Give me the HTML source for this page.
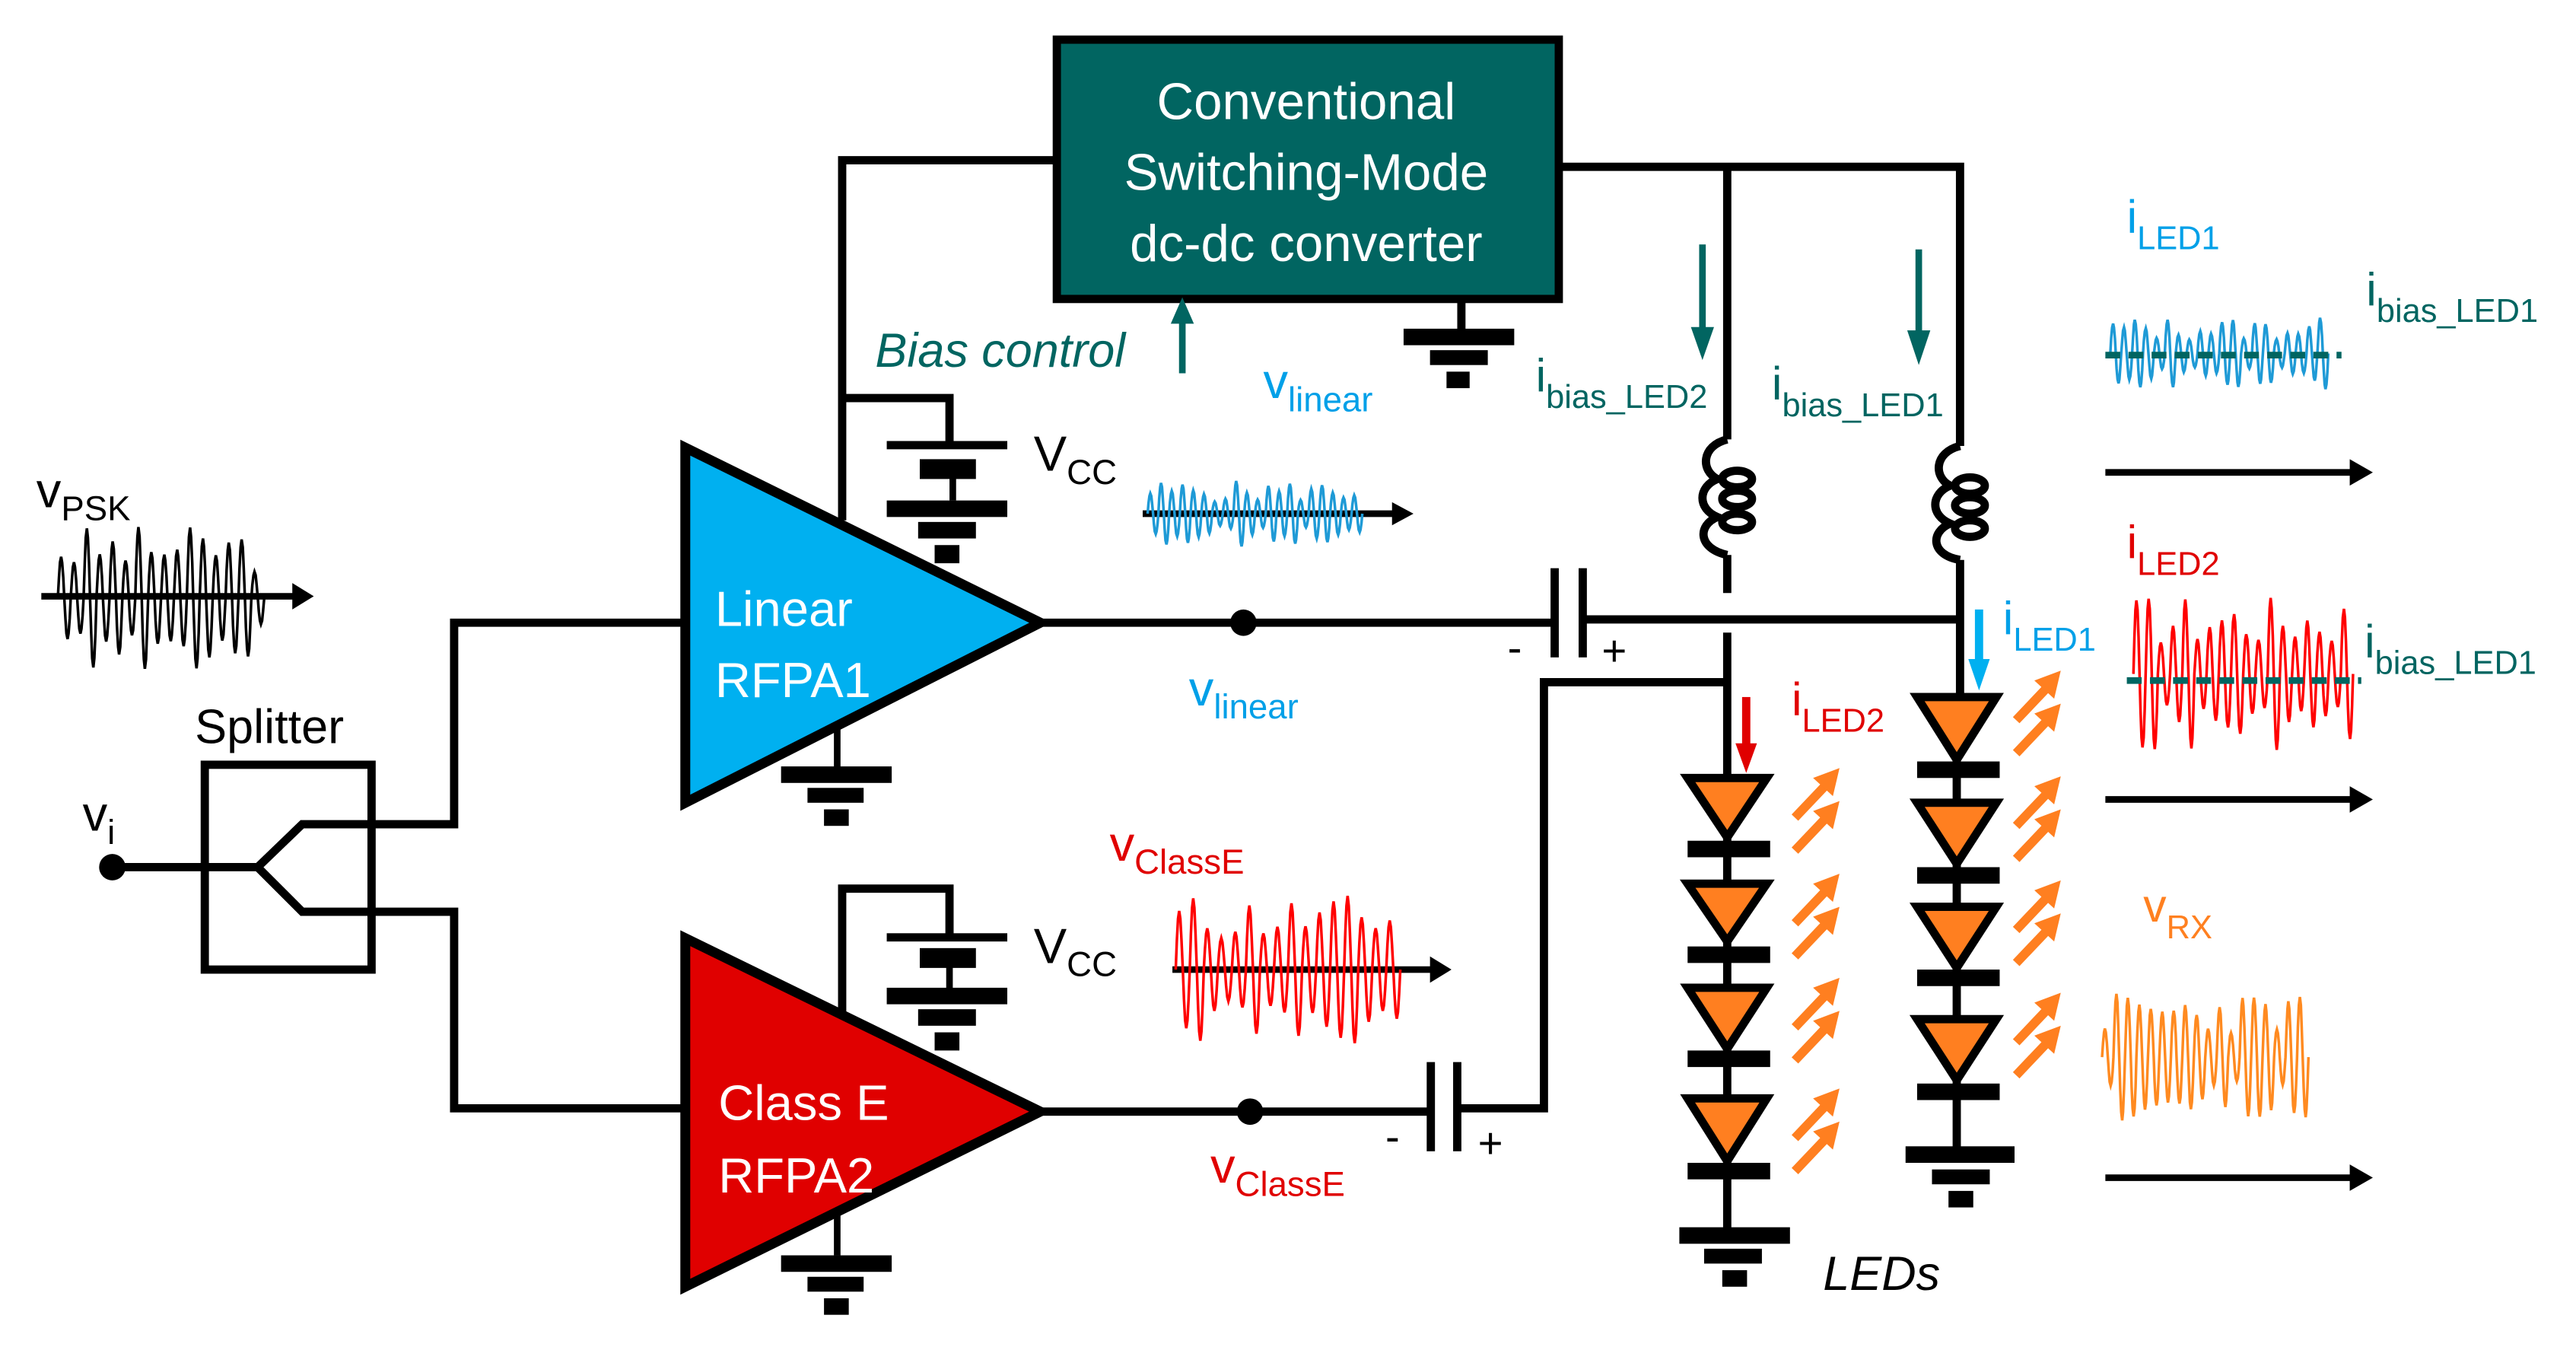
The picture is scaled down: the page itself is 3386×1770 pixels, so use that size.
<!DOCTYPE html>
<html><head><meta charset="utf-8"><style>
html,body{margin:0;padding:0;background:#fff}
svg{display:block}
text{font-family:"Liberation Sans",sans-serif}
</style></head><body>
<svg id="s" width="3386" height="1770" viewBox="0 0 1560 815.5" xmlns="http://www.w3.org/2000/svg">
<g stroke="#000" stroke-width="5" fill="none">
<rect x="640" y="24" width="304" height="157" fill="#016561" stroke-width="5"/>
<polyline points="640,97 510,97 510,315"/>
<polyline points="510,241 575,241 575,270"/>
<polyline points="944,101 1187,101 1187,270"/>
<line x1="1046" y1="101" x2="1046" y2="266"/>
<line x1="1046" y1="336" x2="1046" y2="359"/>
<line x1="1187" y1="339" x2="1187" y2="422"/>
<line x1="885" y1="181" x2="885" y2="200"/>
</g>
<g fill="#000">
<rect x="850" y="199" width="67" height="10"/><rect x="866" y="212" width="35" height="9"/><rect x="876" y="225" width="14" height="10"/>
</g>
<text x="791" y="72" fill="#fff" font-size="31" text-anchor="middle">Conventional</text>
<text x="791" y="115" fill="#fff" font-size="31" text-anchor="middle">Switching-Mode</text>
<text x="791" y="158" fill="#fff" font-size="31" text-anchor="middle">dc-dc converter</text>

<text x="530" y="222" fill="#016561" font-size="29" font-style="italic">Bias control</text>
<line x1="716" y1="226" x2="716" y2="192" stroke="#016561" stroke-width="4"/>
<path d="M709,196 L716,180 L723,196z" fill="#016561"/>

<g fill="#000">
<rect x="537" y="267" width="73" height="5"/><rect x="557" y="278" width="34" height="12"/><rect x="537" y="303" width="73" height="10"/><rect x="556" y="316" width="35" height="10"/><rect x="566" y="330" width="15" height="11"/>
<rect x="575" y="287" width="4" height="16"/>
</g>
<g fill="#000">
<rect x="537" y="565" width="73" height="5"/><rect x="557" y="574" width="34" height="12"/><rect x="537" y="598" width="73" height="10"/><rect x="556" y="611" width="35" height="10"/><rect x="566" y="625" width="15" height="11"/>
<rect x="573" y="584" width="4" height="16"/>
</g>
<polyline points="510,620 510,538 575,538 575,566" stroke="#000" stroke-width="5" fill="none"/>
<text x="626" y="285" font-size="30">V<tspan font-size="21" dy="8">CC</tspan></text>
<text x="626" y="583" font-size="30">V<tspan font-size="21" dy="8">CC</tspan></text>

<polygon points="415,271 415,486 630,377" fill="#00b0f0" stroke="#000" stroke-width="6"/>
<text x="433" y="379" fill="#fff" font-size="30">Linear</text>
<text x="433" y="422" fill="#fff" font-size="30">RFPA1</text>
<polygon points="415,568 415,779 630,673" fill="#e00000" stroke="#000" stroke-width="6"/>
<text x="435" y="678" fill="#fff" font-size="30">Class E</text>
<text x="435" y="722" fill="#fff" font-size="30">RFPA2</text>
<g fill="#000">
<rect x="505" y="440" width="4" height="25"/>
<rect x="473" y="464" width="67" height="10"/><rect x="489" y="477" width="34" height="9"/><rect x="499" y="490" width="15" height="10"/>
<rect x="505" y="735" width="4" height="25"/>
<rect x="473" y="760" width="67" height="10"/><rect x="489" y="773" width="34" height="9"/><rect x="499" y="786" width="15" height="10"/>
</g>

<g stroke="#000" stroke-width="5" fill="none">
<rect x="124" y="463" width="101" height="124"/>
<polyline points="68,525 156,525 183,499 275,499 275,377 415,377"/>
<polyline points="156,525 183,552 275,552 275,671 415,671"/>
</g>
<circle cx="68" cy="525" r="8" fill="#000"/>
<text x="118" y="450" font-size="29">Splitter</text>
<text x="50" y="503" font-size="30">v<tspan font-size="21" dy="8">i</tspan></text>
<text x="22" y="307" font-size="30">v<tspan font-size="21" dy="8">PSK</tspan></text>

<g stroke="#000" stroke-width="5" fill="none">
<line x1="630" y1="377" x2="941" y2="377"/>
<line x1="958" y1="375" x2="1187" y2="375"/>
<line x1="630" y1="673" x2="866" y2="673"/>
<polyline points="883,671 935,671 935,413 1046,413"/>
<line x1="1046" y1="383" x2="1046" y2="472"/>
</g>
<circle cx="753" cy="377" r="8" fill="#000"/>
<circle cx="757" cy="673" r="8" fill="#000"/>
<rect x="939" y="344" width="5" height="54" fill="#000"/><rect x="956" y="344" width="5" height="54" fill="#000"/>
<rect x="864" y="643" width="5" height="54" fill="#000"/><rect x="880" y="643" width="5" height="54" fill="#000"/>
<text x="913" y="401" font-size="26">-</text><text x="970" y="403" font-size="26">+</text>
<text x="839" y="697" font-size="26">-</text><text x="895" y="701" font-size="26">+</text>

<text x="765" y="241" fill="#00a0e8" font-size="30">v<tspan font-size="21" dy="8">linear</tspan></text>
<text x="720" y="427" fill="#00a0e8" font-size="30">v<tspan font-size="21" dy="8">linear</tspan></text>
<text x="672" y="521" fill="#e00000" font-size="30">v<tspan font-size="21" dy="8">ClassE</tspan></text>
<text x="733" y="716" fill="#e00000" font-size="30">v<tspan font-size="21" dy="8">ClassE</tspan></text>

<g stroke="#000" stroke-width="5" fill="none">
<path d="M1046,266 C1030,270 1030,285 1040,290 C1028,295 1028,308 1040,313 C1028,318 1028,332 1046,336"/>
<ellipse cx="1052" cy="290" rx="9" ry="5"/><ellipse cx="1052" cy="302" rx="9" ry="5"/><ellipse cx="1052" cy="316" rx="9" ry="5"/>
<path d="M1187,270 C1171,274 1171,289 1181,294 C1169,299 1169,312 1181,317 C1169,322 1169,336 1187,339"/>
<ellipse cx="1193" cy="294" rx="9" ry="5"/><ellipse cx="1193" cy="306" rx="9" ry="5"/><ellipse cx="1193" cy="320" rx="9" ry="5"/>
</g>
<g fill="#016561">
<rect x="1029" y="148" width="4" height="55"/><path d="M1024,198 L1031,218 L1038,198z"/>
<rect x="1160" y="151" width="4" height="55"/><path d="M1155,200 L1162,221 L1169,200z"/>
</g>
<text x="930" y="237" fill="#016561" font-size="28">i<tspan font-size="20" dy="10">bias_LED2</tspan></text>
<text x="1073" y="242" fill="#016561" font-size="28">i<tspan font-size="20" dy="10">bias_LED1</tspan></text>

<rect x="1055" y="422" width="5" height="30" fill="#e00000"/><path d="M1051,450 L1057.5,468 L1064,450z" fill="#e00000"/>
<text x="1085" y="433" fill="#e00000" font-size="28">i<tspan font-size="20" dy="10">LED2</tspan></text>
<rect x="1196" y="369" width="5" height="32" fill="#00b0f0"/><path d="M1192,399 L1198.5,418 L1205,399z" fill="#00b0f0"/>
<text x="1213" y="384" fill="#00a0e8" font-size="28">i<tspan font-size="20" dy="10">LED1</tspan></text>

<g id="leds"></g>
<text x="1104" y="781" font-size="29" font-style="italic">LEDs</text>

<text x="1288" y="141" fill="#00a0e8" font-size="28">i<tspan font-size="20" dy="10">LED1</tspan></text>
<text x="1433" y="185" fill="#016561" font-size="28">i<tspan font-size="20" dy="10">bias_LED1</tspan></text>
<text x="1288" y="338" fill="#e00000" font-size="28">i<tspan font-size="20" dy="10">LED2</tspan></text>
<text x="1432" y="398" fill="#016561" font-size="28">i<tspan font-size="20" dy="10">bias_LED1</tspan></text>
<text x="1298" y="558" fill="#ff8020" font-size="28">v<tspan font-size="20" dy="10">RX</tspan></text>
<g stroke="#000" stroke-width="4">
<line x1="1275" y1="286" x2="1425" y2="286"/><line x1="1275" y1="484" x2="1425" y2="484"/><line x1="1275" y1="713" x2="1425" y2="713"/>
<line x1="25" y1="361" x2="180" y2="361"/><line x1="692" y1="311" x2="845" y2="311"/><line x1="710" y1="587" x2="868" y2="587"/>
</g>
<g fill="#000">
<path d="M1423,278 L1437,286 L1423,294z"/><path d="M1423,476 L1437,484 L1423,492z"/><path d="M1423,705 L1437,713 L1423,721z"/>
<path d="M177,353 L190,361 L177,369z"/><path d="M843,304 L856,311 L843,318z"/><path d="M866,579 L879,587 L866,595z"/>
</g>
<g id="waves"></g>
</svg>
<script>
(function(){
var NS="http://www.w3.org/2000/svg";
var L=document.getElementById('leds');
function el(t,a,p){var e=document.createElementNS(NS,t);for(var k in a)e.setAttribute(k,a[k]);(p||L).appendChild(e);return e;}
function led(cx,top,apex,bar){
 el('polygon',{points:(cx-24)+','+top+' '+(cx+24)+','+top+' '+cx+','+apex,fill:'#ff7f20',stroke:'#000','stroke-width':5});
 el('rect',{x:cx-24,y:bar,width:50,height:10,fill:'#000'});
}
function lights(x,y){
 for(var i=0;i<2;i++){var yy=y+i*20;
 el('line',{x1:x,y1:yy+26,x2:x+19,y2:yy+6,stroke:'#ff7f20','stroke-width':5.5});
 el('path',{d:'M'+(x+11)+','+(yy+2)+' L'+(x+27)+','+(yy-4)+' L'+(x+23)+','+(yy+13)+'z',fill:'#ff7f20'});}
}
var c1=1046, t1=[[471,507,509],[535,570,573],[598,635,636],[665,703,704]];
el('line',{x1:c1,y1:470,x2:c1,y2:745,stroke:'#000','stroke-width':5});
t1.forEach(function(t){led(c1,t[0],t[1],t[2]);lights(1087,t[0]-2);});
el('rect',{x:1017,y:743,width:67,height:10,fill:'#000'});el('rect',{x:1032,y:756,width:35,height:9,fill:'#000'});el('rect',{x:1043,y:769,width:15,height:10,fill:'#000'});
var c2=1185, t2=[[422,460,461],[486,523,525],[549,586,587],[617,654,656]];
el('line',{x1:c2,y1:420,x2:c2,y2:695,stroke:'#000','stroke-width':5});
t2.forEach(function(t){led(c2,t[0],t[1],t[2]);lights(1221,t[0]-12);});
el('rect',{x:1154,y:694,width:66,height:10,fill:'#000'});el('rect',{x:1170,y:708,width:35,height:9,fill:'#000'});el('rect',{x:1180,y:721,width:15,height:10,fill:'#000'});
var W=document.getElementById('waves');
var seed=7;function rnd(){seed=(seed*9301+49297)%233280;return seed/233280;}
function wave(x0,x1,cy,amp,col,cyc,sw,seedv){
 seed=seedv;var pts=[],n=cyc*12,amps=[];
 for(var k=0;k<=cyc;k++)amps.push(0.35+0.65*rnd());
 for(var i=0;i<=n;i++){var t=i/n;var a=amps[Math.floor(t*cyc)];var y=cy-amp*a*Math.sin(2*Math.PI*cyc*t);pts.push((x0+(x1-x0)*t).toFixed(1)+','+y.toFixed(1));}
 el('polyline',{points:pts.join(' '),fill:'none',stroke:col,'stroke-width':sw},W);
}
wave(35,160,362,44,'#000',16,1.6,3);
wave(695,825,311,20,'#1e9ad6',20,1.6,5);
wave(712,848,587,46,'#f00',16,1.6,11);
wave(1278,1410,214,22,'#1e9ad6',20,1.6,13);
el('line',{x1:1275,y1:215,x2:1418,y2:215,stroke:'#016561','stroke-width':4,'stroke-dasharray':'9,5'},W);
wave(1292,1425,408,48,'#f00',18,1.6,17);
el('line',{x1:1288,y1:412,x2:1430,y2:412,stroke:'#016561','stroke-width':4,'stroke-dasharray':'9,5'},W);
wave(1273,1398,640,40,'#ff8a20',18,1.6,23);
})();
</script>
</body></html>
